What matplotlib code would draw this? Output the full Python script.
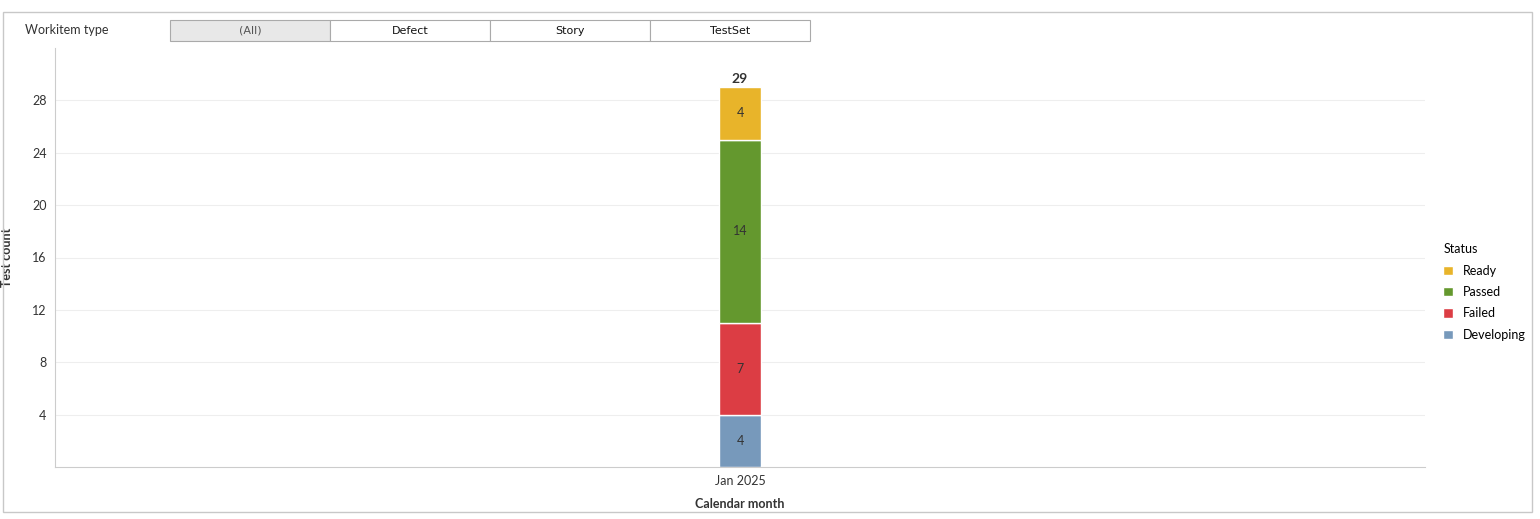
import matplotlib
matplotlib.use("Agg")
import matplotlib.pyplot as plt
from matplotlib.patches import Rectangle

plt.rcParams["font.family"] = "Lato"

months = ["Jan 2025"]
statuses = ["Developing", "Failed", "Passed", "Ready"]
values = {"Developing": [4], "Failed": [7], "Passed": [14], "Ready": [4]}
colors = {"Developing": "#7799BB", "Failed": "#DC3D44", "Passed": "#64982E", "Ready": "#E8B42A"}
yticks = [4, 8, 12, 16, 20, 24, 28]
filters = ["(All)", "Defect", "Story", "TestSet"]

W, H = 1540, 519
fig = plt.figure(figsize=(W/100, H/100), dpi=100)
fig.patches.append(Rectangle((3/W, 1-512/H), 1529/W, 500/H, transform=fig.transFigure,
                             fill=False, ec="#c8c8c8", lw=1))

ax = fig.add_axes([55/W, 1-467/H, 1370/W, 419/H])
x = list(range(len(months)))
bottom = [0]*len(months)
for s in statuses:
    v = values[s]
    bars = ax.bar(x, v, bottom=bottom, width=0.031, color=colors[s], edgecolor="white", lw=1, label=s)
    for xi, b, vi in zip(x, bottom, v):
        ax.text(xi, b + vi/2, str(vi), ha="center", va="center", fontsize=9, color="#333333")
    bottom = [b + vi for b, vi in zip(bottom, v)]
for xi, t in zip(x, bottom):
    ax.text(xi, t + 0.2, str(t), ha="center", va="bottom", fontsize=10, fontweight="bold", color="#333333")

ax.set_xlim(-0.5, 0.5)
ax.set_ylim(0, 32)
ax.set_yticks(yticks)
ax.set_xticks(x)
ax.set_xticklabels(months)
ax.tick_params(axis="both", length=0, labelsize=9, colors="#333333", pad=6)
ax.grid(axis="y", color="#eeeeee", lw=0.8)
ax.set_axisbelow(True)
for sp in ["top", "right"]:
    ax.spines[sp].set_visible(False)
for sp in ["left", "bottom"]:
    ax.spines[sp].set_color("#cccccc")
ax.set_xlabel("Calendar month", fontsize=9, fontweight="bold", color="#333333", labelpad=8)
ax.set_ylabel("Test count", fontsize=9, fontweight="bold", color="#333333", labelpad=14)

handles, labels = ax.get_legend_handles_labels()
leg = fig.legend(handles[::-1], labels[::-1], title="Status", loc="upper left",
                 bbox_to_anchor=(1432/W, 1-232/H), frameon=False, fontsize=9,
                 title_fontsize=9, handlelength=0.8, handleheight=0.8, labelspacing=0.75)
leg._legend_box.align = "left"

fig.text(25/W, 1-30/H, "Workitem type", fontsize=9, color="#333333", va="center")
x0, bw, y0, bh = 170, 160, 20, 21
for i, f in enumerate(filters):
    fc = "#e8e8e8" if i == 0 else "white"
    fig.patches.append(Rectangle(((x0+i*bw)/W, 1-(y0+bh)/H), bw/W, bh/H, transform=fig.transFigure,
                                 fc=fc, ec="#aaaaaa", lw=0.8))
    fig.text((x0+i*bw+bw/2)/W, 1-(y0+bh/2)/H, f, ha="center", va="center", fontsize=8,
             color="#555555" if i == 0 else "#111111", family="DejaVu Sans")

fig.savefig("out.png", dpi=100)
